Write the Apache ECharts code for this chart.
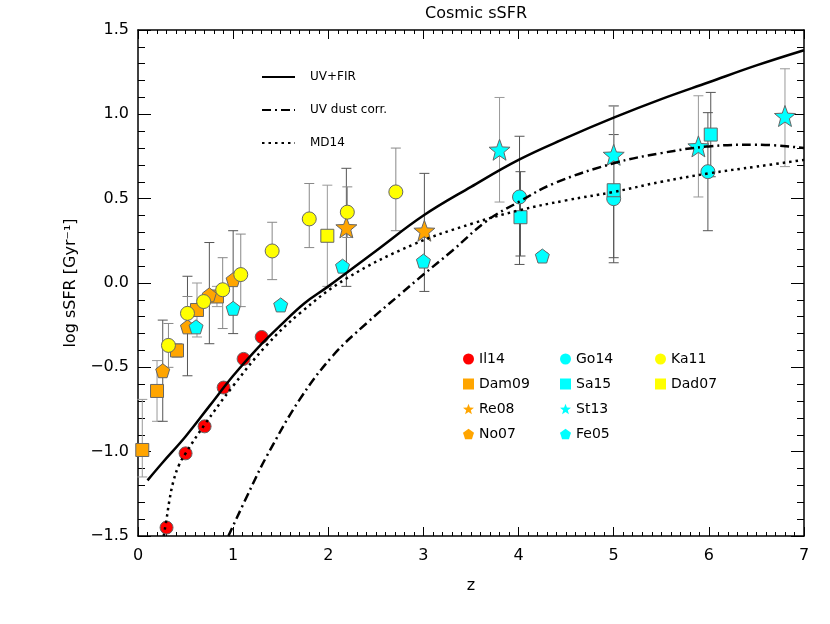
<!DOCTYPE html>
<html>
<head>
<meta charset="utf-8">
<script src="https://cdn.jsdelivr.net/npm/echarts@6/dist/echarts.min.js"></script>
<style>
  html, body { margin: 0; padding: 0; background: #fff; }
  #chart { width: 830px; height: 624px; }
</style>
</head>
<body>
<div id="chart"></div>
<script>
// model curves, [z, log sSFR]
const uvFir = [[0.1,-1.17],[0.25,-1.07],[0.5,-0.91],[0.75,-0.73],[1.0,-0.55],[1.25,-0.39],[1.5,-0.25],[1.75,-0.12],[2.0,-0.02],[2.5,0.19],[3.0,0.40],[3.5,0.57],[4.0,0.73],[4.5,0.86],[5.0,0.98],[5.5,1.09],[6.0,1.19],[6.5,1.29],[7.0,1.38]];
const uvDust = [[0.95,-1.5],[1.2,-1.2],[1.35,-1.03],[1.7,-0.69],[2.05,-0.43],[2.4,-0.24],[2.75,-0.07],[3.0,0.05],[3.3,0.19],[3.67,0.37],[4.0,0.48],[4.37,0.59],[5.0,0.71],[5.5,0.77],[6.0,0.81],[6.5,0.82],[7.0,0.80]];
const md14 = [[0.27,-1.5],[0.30,-1.40],[0.33,-1.29],[0.37,-1.18],[0.43,-1.08],[0.5,-1.01],[0.7,-0.84],[1.0,-0.61],[1.35,-0.37],[1.7,-0.18],[2.2,0.03],[2.9,0.23],[3.5,0.35],[4.0,0.43],[4.5,0.49],[5.0,0.54],[5.5,0.60],[6.0,0.65],[6.5,0.69],[7.0,0.73]];

// observations, [z, log sSFR]
const il14 = [[0.30,-1.45],[0.50,-1.01],[0.70,-0.85],[0.90,-0.62],[1.11,-0.45],[1.30,-0.32]];
const dam09 = [[0.045,-0.99],[0.20,-0.64],[0.41,-0.40],[0.62,-0.16],[0.83,-0.08]];
const re08 = [[2.19,0.33],[3.01,0.31]];
const no07 = [[0.26,-0.52],[0.52,-0.26],[0.75,-0.07],[1.0,0.02]];
const go14 = [[4.01,0.51],[5.0,0.50],[5.99,0.66]];
const sa15 = [[4.02,0.39],[5.0,0.55],[6.02,0.88]];
const st13 = [[3.80,0.79],[5.0,0.76],[5.89,0.81],[6.80,0.99]];
const fe05 = [[0.61,-0.26],[1.0,-0.15],[1.50,-0.13],[2.15,0.10],[3.0,0.13],[4.25,0.16]];
const ka11 = [[0.32,-0.37],[0.52,-0.18],[0.69,-0.11],[0.89,-0.04],[1.08,0.05],[1.41,0.19],[1.80,0.38],[2.20,0.42],[2.71,0.54]];
const dad07 = [[1.99,0.28]];

// error bars, [z, low, high]
const dam09Err = [[0.045,-1.15,-0.69],[0.20,-0.82,-0.46],[0.41,-0.44,-0.36],[0.62,-0.32,0.0],[0.83,-0.14,-0.02]];
const re08Err = [[2.19,-0.02,0.68],[3.01,-0.05,0.65]];
const no07Err = [[0.26,-0.82,-0.22],[0.52,-0.55,0.04],[0.75,-0.36,0.24],[1.0,-0.30,0.31]];
const go14Err = [[4.01,0.11,0.87],[5.0,0.12,0.88],[5.99,0.31,1.01]];
const sa15Err = [[4.02,0.16,0.66],[5.0,0.15,1.05],[6.02,0.63,1.13]];
const st13Err = [[3.80,0.48,1.10],[5.0,0.47,1.05],[5.89,0.51,1.11],[6.80,0.69,1.27]];
const fe05Err = [[4.25,0.14,0.18]];
const ka11Err = [[0.32,-0.50,-0.24],[0.52,-0.28,-0.08],[0.89,-0.27,0.15],[1.08,-0.14,0.29],[1.41,0.02,0.36],[1.80,0.21,0.59],[2.20,0.27,0.57],[2.71,0.31,0.80]];
const dad07Err = [[1.99,-0.02,0.58]];

const xTicks = [0, 7, 1];
const yTicks = [-1.5, 1.5, 0.5];

const STAR = 'path://M50 0 L62.3 33 L97.55 34.55 L69.9 56.5 L79.39 90.45 L50 71 L20.61 90.45 L30.1 56.5 L2.45 34.55 L37.7 33 Z';
const PENT = 'path://M50 0 L97.55 34.55 L79.39 90.45 L20.61 90.45 L2.45 34.55 Z';

const chart = echarts.init(document.getElementById('chart'));
const FONT = 'DejaVu Sans';

function errSeries(data, color) {
  return {
    type: 'custom',
    name: 'err',
    data: data,
    z: 2,
    renderItem: function (params, api) {
      const a = api.coord([api.value(0), api.value(1)]);
      const b = api.coord([api.value(0), api.value(2)]);
      const w = 5;
      const st = { stroke: color, lineWidth: 1 };
      return {
        type: 'group',
        children: [
          { type: 'line', shape: { x1: a[0], y1: a[1], x2: b[0], y2: b[1] }, style: st },
          { type: 'line', shape: { x1: a[0] - w, y1: a[1], x2: a[0] + w, y2: a[1] }, style: st },
          { type: 'line', shape: { x1: b[0] - w, y1: b[1], x2: b[0] + w, y2: b[1] }, style: st }
        ]
      };
    }
  };
}

function pts(name, data, color, symbol, size) {
  return {
    type: 'scatter',
    name: name,
    data: data,
    symbol: symbol,
    symbolSize: size,
    z: 3,
    itemStyle: { color: color, borderColor: '#666', borderWidth: 1, opacity: 1 }
  };
}

function curve(name, data, lineType, width) {
  return {
    type: 'line',
    name: name,
    data: data,
    symbol: 'none',
    showSymbol: false,
    smooth: 0.4,
    z: 4,
    lineStyle: { color: '#000', width: width, type: lineType },
    itemStyle: { color: '#000' }
  };
}

const fmtY = v => (v < 0 ? '\u2212' : '') + Math.abs(v).toFixed(1);

const markLegend = (left, names) => ({
  orient: 'vertical',
  left: left,
  top: 351,
  padding: 0,
  itemGap: 9,
  itemWidth: 11,
  itemHeight: 11,
  itemStyle: { borderWidth: 0 },
  textStyle: { fontFamily: FONT, fontSize: 14, color: '#000', lineHeight: 16 },
  data: names
});

chart.setOption({
  animation: false,
  backgroundColor: '#fff',
  title: {
    text: 'Cosmic sSFR',
    left: 471,
    top: 1,
    textAlign: 'center',
    textStyle: { fontFamily: FONT, fontSize: 16, fontWeight: 'normal', color: '#000' }
  },
  grid: { left: 138, right: 26, top: 30, bottom: 88 },
  legend: [
    {
      orient: 'vertical',
      left: 261,
      top: 71,
      padding: 0,
      itemGap: 21,
      itemWidth: 33,
      itemHeight: 14,
      itemStyle: { opacity: 0 },
      textStyle: { fontFamily: FONT, fontSize: 12, color: '#000', padding: [0, 0, 0, 10] },
      data: ['UV+FIR', 'UV dust corr.', 'MD14']
    },
    markLegend(463, ['Il14', 'Dam09', 'Re08', 'No07']),
    markLegend(560, ['Go14', 'Sa15', 'St13', 'Fe05']),
    markLegend(655, ['Ka11', 'Dad07'])
  ],
  xAxis: [
    {
      type: 'value', min: xTicks[0], max: xTicks[1], interval: xTicks[2],
      name: 'z', nameLocation: 'middle', nameGap: 42,
      nameTextStyle: { fontFamily: FONT, fontSize: 16, color: '#000' },
      axisLine: { onZero: false, lineStyle: { color: '#000', width: 1.5 } },
      axisTick: { inside: true, length: 9, lineStyle: { color: '#000' } },
      minorTick: { show: true, splitNumber: 10, length: 4, lineStyle: { color: '#000' } },
      splitLine: { show: false },
      axisLabel: { fontFamily: FONT, fontSize: 16, color: '#000', margin: 12 }
    },
    {
      type: 'value', position: 'top', min: xTicks[0], max: xTicks[1], interval: xTicks[2],
      axisLine: { onZero: false, lineStyle: { color: '#000', width: 1.5 } },
      axisTick: { inside: true, length: 9, lineStyle: { color: '#000' } },
      minorTick: { show: true, splitNumber: 10, length: 4, lineStyle: { color: '#000' } },
      splitLine: { show: false },
      axisLabel: { show: false }
    }
  ],
  yAxis: [
    {
      type: 'value', min: yTicks[0], max: yTicks[1], interval: yTicks[2],
      name: 'log sSFR [Gyr\u207B\u00B9]', nameLocation: 'middle', nameGap: 51, nameRotate: 90,
      nameTextStyle: { fontFamily: FONT, fontSize: 16, color: '#000' },
      axisLine: { onZero: false, lineStyle: { color: '#000', width: 1.5 } },
      axisTick: { inside: true, length: 13, lineStyle: { color: '#000' } },
      minorTick: { show: true, splitNumber: 5, length: 7, lineStyle: { color: '#000' } },
      splitLine: { show: false },
      axisLabel: { fontFamily: FONT, fontSize: 16, color: '#000', margin: 9, formatter: fmtY }
    },
    {
      type: 'value', position: 'right', min: yTicks[0], max: yTicks[1], interval: yTicks[2],
      axisLine: { onZero: false, lineStyle: { color: '#000', width: 1.5 } },
      axisTick: { inside: true, length: 13, lineStyle: { color: '#000' } },
      minorTick: { show: true, splitNumber: 5, length: 7, lineStyle: { color: '#000' } },
      splitLine: { show: false },
      axisLabel: { show: false }
    }
  ],
  series: [
    errSeries(dam09Err, '#999'),
    errSeries(no07Err, '#555'),
    errSeries(re08Err, '#555'),
    errSeries(go14Err, '#555'),
    errSeries(sa15Err, '#555'),
    errSeries(st13Err, '#999'),
    errSeries(fe05Err, '#555'),
    errSeries(ka11Err, '#888'),
    errSeries(dad07Err, '#999'),
    pts('Il14', il14, '#ff0000', 'circle', 13),
    pts('Dam09', dam09, '#ffa500', 'rect', 13),
    pts('Re08', re08, '#ffa500', STAR, 21),
    pts('No07', no07, '#ffa500', PENT, 14),
    pts('Go14', go14, '#00ffff', 'circle', 14),
    pts('Sa15', sa15, '#00ffff', 'rect', 13),
    pts('St13', st13, '#00ffff', STAR, 21),
    pts('Fe05', fe05, '#00ffff', PENT, 14),
    pts('Ka11', ka11, '#ffff00', 'circle', 14),
    pts('Dad07', dad07, '#ffff00', 'rect', 13),
    curve('UV+FIR', uvFir, 'solid', 2.5),
    curve('UV dust corr.', uvDust, [9, 4, 2, 4], 2.5),
    curve('MD14', md14, [2.5, 4], 2.5)
  ]
});
</script>
</body>
</html>
